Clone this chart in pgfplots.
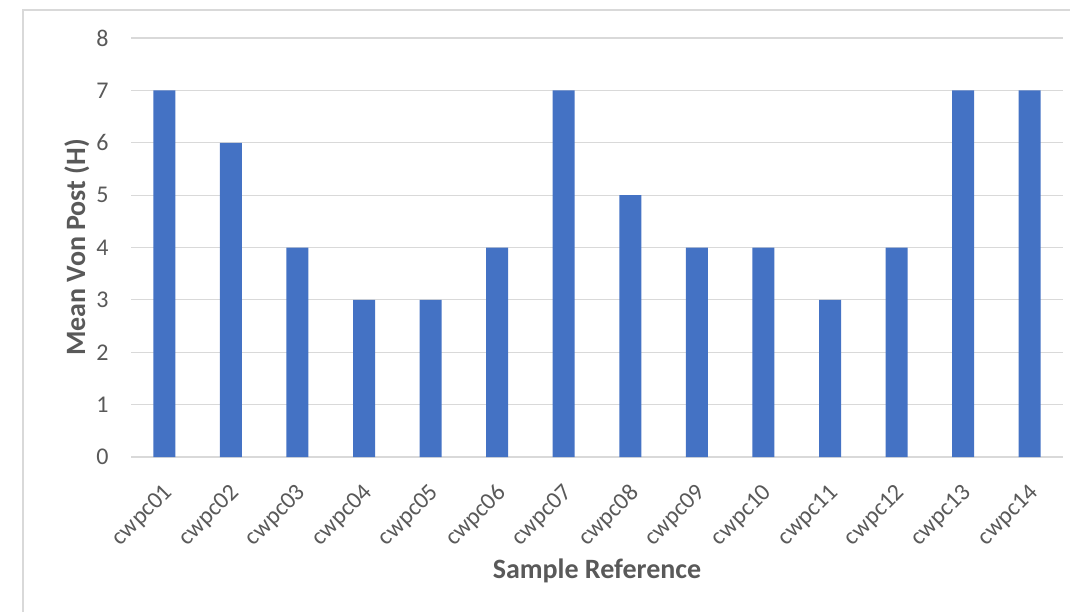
\documentclass[border=0pt]{standalone}
\usepackage{fontspec}
\setmainfont{Carlito}
\usepackage{pgfplots}
\pgfplotsset{compat=1.18}
\definecolor{barblue}{HTML}{4472C4}
\definecolor{gridgray}{HTML}{D9D9D9}
\definecolor{txtgray}{HTML}{595959}
\begin{document}
\begin{tikzpicture}
% canvas: 1 px of the reference = 0.5pt
\useasboundingbox (0pt,0pt) rectangle (535pt,306pt);
\draw[gridgray, line width=0.6pt] (11.5pt,0pt) -- (11.5pt,301pt) -- (535pt,301pt);
\begin{axis}[
  at={(65.5pt,77.5pt)}, anchor=south west,
  scale only axis, width=466pt, height=209.5pt,
  ybar, bar width=11pt,
  xmin=-0.5, xmax=13.5, ymin=0, ymax=8,
  xtick=data,
  xticklabels={cwpc01,cwpc02,cwpc03,cwpc04,cwpc05,cwpc06,cwpc07,cwpc08,cwpc09,cwpc10,cwpc11,cwpc12,cwpc13,cwpc14},
  ytick={0,1,...,8},
  axis line style={draw=none},
  axis x line*=bottom,
  x axis line style={draw=gridgray, line width=0.8pt},
  axis y line*=left,
  major tick length=0pt,
  ymajorgrids, grid style={gridgray, line width=0.6pt},
  tick label style={font=\fontsize{12}{14}\selectfont, text=txtgray},
  /pgf/number format/assume math mode=true,
  yticklabel style={inner sep=0pt, xshift=-11pt},
  xticklabel style={font=\fontsize{12}{14}\selectfont, xshift=-1pt, yshift=-12.5pt, rotate=45, anchor=north east, inner sep=0pt},
  xlabel={Sample Reference}, ylabel={Mean Von Post (H)},
  label style={font=\bfseries\fontsize{14}{16}\selectfont, text=txtgray},
  xlabel style={at={(axis description cs:0.5,0)}, anchor=center, yshift=-57pt},
]
\addplot[fill=barblue, draw=none] coordinates {
  (0,7) (1,6) (2,4) (3,3) (4,3) (5,4) (6,7) (7,5) (8,4) (9,4) (10,3) (11,4) (12,7) (13,7)
};
\end{axis}
\end{tikzpicture}
\end{document}
